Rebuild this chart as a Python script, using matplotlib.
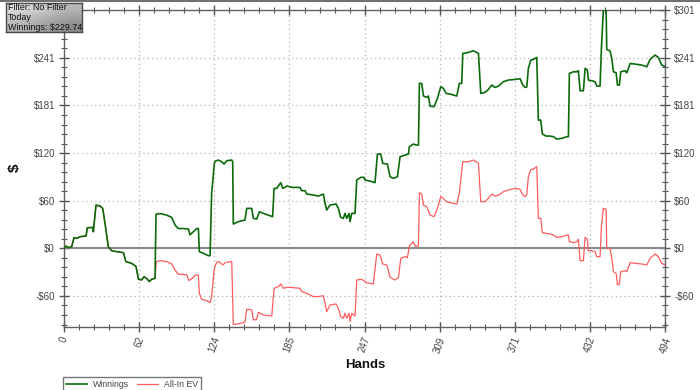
import numpy as np
import matplotlib
matplotlib.use('Agg')
import matplotlib.pyplot as plt
from matplotlib.ticker import FixedLocator, FuncFormatter
from matplotlib.lines import Line2D

plt.rcParams['font.family'] = ['Liberation Sans', 'DejaVu Sans']

# values
win_hands = [0, 1.6, 3.6, 6.3, 8.2, 10.4, 13.1, 18.1, 19.2, 23.5, 24.1, 26.3, 29.6, 31.8, 33.7,
             36.4, 39.2, 43.3, 48.8, 50.9, 55.6, 59.2, 61.1, 63.8, 65.7, 68.5, 70.1, 72.1, 74.8,
             75.6, 78.9, 84.4, 88.5, 91.2, 93.9, 98.0, 102.2, 103.5, 106.3, 109, 110.4, 111.2,
             114.5, 118.6, 120, 121.3, 123.5, 124.1, 126.8, 129.6, 131.5, 133.7, 137.8, 138.6,
             139.1, 143.2, 148.7, 150.1, 154.2, 155.6, 158.3, 160.5, 163.8, 167.9, 171.4, 172.6,
             174.8, 176.1, 178.1, 179.7, 183.5, 187.1, 193.9, 195.3, 198, 199.4, 204.9, 209,
             213.1, 214.5, 215.8, 218.6, 223.5, 225.4, 227.3, 229.5, 230.9, 232.3, 234.2, 235,
             236.4, 239.1, 240.5, 243.8, 246.5, 247.3, 251.4, 255.5, 257.5, 260.2, 261.9, 265.7,
             267.9, 270.6, 273.9, 276.1, 280.2, 283, 283.7, 287, 289.2, 291.2, 292, 293.9, 295.3,
             298, 299.4, 300.7, 304, 306.8, 309.5, 311.7, 313.9, 317.2, 322.7, 324.8, 326.8,
             327.6, 332.2, 336.3, 339.6, 340.5, 342.4, 345.9, 348.7, 351.4, 354.1, 356.9, 361,
             365.1, 370.6, 374.7, 376.9, 378.8, 380.2, 381.5, 383.5, 385.6, 388.4, 389.7, 391.7,
             393, 396.1, 399.3, 402.1, 404.8, 409, 413, 414.4, 415.2, 418.5, 421.3, 422.6, 424,
             426.7, 428.1, 430, 430.8, 433.6, 436.3, 437.7, 440.4, 441.5, 443.1, 445.4, 445.9,
             448.6, 450, 451.4, 453.6, 454.7, 456.3, 457.4, 461, 462.4, 465.1, 469.2, 474.7,
             478.8, 481.5, 485.6, 488.3, 491.1, 494]
winnings = [0, 2.9, 1, 2, 13.5, 12.6, 14.7, 15.6, 26, 26.5, 21, 54.7, 53.5, 50.5, 31.6,
            2, -3, -4.2, -5.5, -16.8, -19, -23, -39, -40, -35.8, -39, -42, -39, -38,
            43, 44, 42, 39, 29.5, 25, 25, 24.4, 17, 21, 25, 25, -4.2,
            -6.3, -9.3, -9.3, 69.5, 107, 110, 111.6, 109.5, 106.5, 110.7, 111.6, 109.5,
            30.7, 33.7, 35.8, 50.5, 50.5, 37.9, 37, 46.3, 44.2, 42, 40, 75.8,
            75.8, 78.8, 83, 75.8, 78.8, 77, 77, 72.9, 72.9, 68.6, 67.4, 66,
            68.6, 56.9, 48.4, 54.7, 56, 50.5, 39.2, 37.9, 44.2, 37.9, 44.2, 33.7,
            44.2, 44.2, 86.3, 89.7, 89.7, 86.3, 85, 83, 119.2, 119.2, 107.4, 106.5,
            90.5, 88.4, 90.5, 115.8, 117.9, 119.2, 128.4, 131.8, 130.6, 130.6, 208.5, 208.5, 192.5,
            190.8, 192.5, 179.8, 179, 189.5, 204.3, 202.1, 195.8, 195, 192.5, 208.5, 208.5,
            246.4, 247.6, 249.7, 247.2, 246.4, 195.8, 197.1, 200.9, 206.4, 203.4, 205, 210.6,
            212.7, 213.5, 214.4, 206.4, 203.4, 204, 227.4, 238, 238.8, 241.3, 162.1, 162.1,
            144.5, 141.9, 141.9, 141.1, 138.1, 139, 141.1, 141.1, 221.1, 223.2, 223.2, 224.5, 199.2,
            199.2, 227.4, 225.5, 212.7, 211.8, 210.6, 205.1, 205.1, 252.7, 301, 301, 251.4,
            249.7, 240, 223.2, 221.9, 206.4, 206.4, 223.2, 224.5, 221.9, 233.7, 232.9, 231.6,
            229.5, 238.8, 244.3, 241.3, 231.6, 229.74]

ev_hands = [0, 1.6, 3.6, 6.3, 8.2, 10.4, 13.1, 18.1, 19.2, 23.5, 24.1, 26.3, 29.6, 31.8, 33.7,
            36.4, 39.2, 43.3, 48.8, 50.9, 55.6, 59.2, 61.1, 63.8, 65.7, 68.5, 70.1, 72.1, 74.8,
            75.6, 76, 78.9, 84.4, 88.5, 91.2, 93.9, 98, 101, 102.5, 105.4, 108.1, 110.4, 111.2,
            113.1, 117.2, 120, 121.3, 123.5, 125.4, 127.6, 130.4, 133.1, 137.8, 139.1, 147.3,
            148.7, 150.1, 154.2, 155.6, 158.3, 159.7, 163.8, 170.7, 172.6, 176.1, 178.1, 180.2,
            184.3, 193.9, 195.3, 199.4, 204.9, 209, 213.1, 214.5, 215.8, 218.6, 223.5, 225.4,
            227.3, 229.5, 230.9, 232.3, 234.2, 235, 236.4, 239.1, 240.5, 244.6, 248.7, 254.2,
            256.9, 259.6, 261.9, 265.2, 267.9, 272, 274.7, 276.7, 280.2, 282.1, 283.7, 287,
            288.4, 291.2, 292, 293.9, 295.3, 298, 300.7, 304, 306.8, 309.5, 311.7, 313.9, 317.2,
            322.7, 324.8, 327.6, 332.2, 336.3, 339.6, 340.5, 342.4, 345.9, 348.7, 351.4, 354.1,
            356.9, 361, 365.1, 370.6, 374.7, 376.9, 378.8, 380.2, 381.5, 383.5, 385.6, 388.4,
            389.7, 391.7, 393, 396.1, 399.3, 402.1, 404.8, 409, 413, 414.4, 415.2, 418.5, 421.3,
            422.6, 424, 426.7, 428.1, 430, 430.8, 433.6, 436.3, 437.7, 440.4, 441.5, 443.1,
            445.4, 445.9, 448.6, 450, 451.4, 453.6, 454.7, 456.3, 457.4, 461, 462.4, 465.1,
            469.2, 474.7, 478.8, 481.5, 485.6, 488.3, 491.1, 494]
all_in_ev = [0, 2.9, 1, 2, 13.5, 12.6, 14.7, 15.6, 26, 26.5, 21, 54.7, 53.5, 50.5, 31.6,
             2, -3, -4.2, -5.5, -16.8, -19, -23, -39, -40, -35.8, -39, -42, -39, -38,
             -21, -16.8, -15.6, -16.8, -19.8, -27.4, -32.9, -32.9, -33.7, -40.8, -37.9, -33.7, -33.7, -56.9,
             -64.4, -66.1, -68.6, -61, -25.3, -17.7, -16.8, -21, -17.7, -16.8, -96.5, -94,
             -93, -77, -77.9, -90.5, -90, -80.8, -84.2, -85.5, -50.5, -48.4, -45, -50.5,
             -49.1, -50.5, -54.7, -56.9, -61, -61, -59.8, -69.5, -80, -71.6, -70.3, -75.8,
             -86.3, -88.4, -82.1, -88.4, -82.1, -92.6, -82.1, -85.5, -40, -39.2, -43.4, -45,
             -7.2, -8.4, -19.8, -21, -36.6, -40, -37, -12.6, -10.5, -12, 2.9, 8.4,
             2.9, 2.9, 70.3, 68.6, 54.7, 52.6, 42.1, 40, 50.5, 65.3, 63.2, 59, 57.7,
             56, 70.3, 109.5, 109.5, 111.6, 108.2, 107.4, 59, 59, 63.2, 68.6, 66.1,
             67, 71.6, 73.7, 75.8, 74.5, 67.4, 65.3, 68, 90.5, 99.8, 100.2, 103.2,
             37.9, 37.9, 19.8, 19, 18.1, 16.8, 13.9, 14.7, 16.8, 16.8, 8.4, 7.2, 8.4,
             11.4, -15.6, -15.6, 13.9, 11.4, -2.9, -2.9, -4.2, -10.5, -10.5, 27.4, 50.5,
             49.5, 0, 0, -12.6, -29.5, -31.6, -46.3, -45, -29.5, -28.2, -29.5, -18.1,
             -19, -19.8, -21, -12.6, -7.2, -10.5, -19, -21]

x_max = 494
y_min = -98.8
y_max = 301
y_step = y_max / 5
x_step = x_max / 8

fig = plt.figure(figsize=(7, 3.9), dpi=100)
ax = fig.add_axes([64 / 700, 1 - 326.5 / 390, 601.3 / 700, 316.3 / 390])

ax.plot(ev_hands, all_in_ev, color='#ff5c5c', lw=0.9, zorder=3, label='All-In EV')
ax.plot(win_hands, winnings, color='#0b6b0b', lw=1.2, zorder=4, label='Winnings')
ax.axhline(0, color='#8a8a8a', lw=1.5, zorder=2)

ax.set_xlim(0, x_max)
ax.set_ylim(y_min, y_max)

ax.xaxis.set_major_locator(FixedLocator(np.arange(0, 8.5) * x_step))
ax.xaxis.set_minor_locator(FixedLocator(np.arange(0, 40.5) * x_step / 5))
ax.yaxis.set_major_locator(FixedLocator(np.arange(-1, 5.5) * y_step))
ax.yaxis.set_minor_locator(FixedLocator(np.arange(-8, 25.5) * y_step / 5))


def money(v, pos):
    n = int(abs(v) + 0.5)
    return f"-${n}" if v < 0 else f"${n}"


ax.yaxis.set_major_formatter(FuncFormatter(money))
ax.xaxis.set_major_formatter(FuncFormatter(lambda v, pos: str(int(v + 0.5))))

ax.grid(which='major', color='#b4b4b4', linestyle=(0, (1, 2.5)), linewidth=0.9)
ax.set_axisbelow(True)
for s in ax.spines.values():
    s.set_color('#606060')
    s.set_linewidth(1.0)

ax.tick_params(which='both', direction='inout', colors='#555555', labelcolor='#444444',
               top=True, right=True, labelright=True, labelsize=7)
ax.tick_params(which='major', length=7, width=1)
ax.tick_params(which='minor', length=4, width=0.8)
ax.tick_params(axis='y', pad=3)
ax.tick_params(axis='x', pad=3)
for lbl in ax.get_xticklabels():
    lbl.set_rotation(70)
    lbl.set_ha('center')
    lbl.set_va('top')
# the left $301 label sits under the info box in the original
ax.yaxis.get_major_ticks()[-1].label1.set_visible(False)

fig.text(365 / 700, 1 - 365 / 390, 'Hands', ha='center', va='center',
         fontsize=9.5, fontweight='bold', color='#111111')
fig.text(15 / 700, 1 - 168 / 390, '$', ha='center', va='center', rotation=90,
         fontsize=11, fontweight='bold', color='#111111')

# top border line of the window
fig.add_artist(Line2D([0, 1], [1 - 1 / 390, 1 - 1 / 390], color='#707070', lw=1.5,
                      transform=fig.transFigure))

# info box in the corner
box = fig.add_axes([6 / 700, 1 - 32 / 390, 76 / 700, 29 / 390])
grad = np.array([[0.88, 0.72], [0.70, 0.52]])
box.imshow(grad, cmap='gray', vmin=0, vmax=1, interpolation='bicubic',
           extent=[0, 1, 0, 1], aspect='auto')
box.set_xticks([])
box.set_yticks([])
for s in box.spines.values():
    s.set_color('#4a4a4a')
    s.set_linewidth(1.0)
box.text(0.02, 0.99, 'Filter: No Filter\nToday\nWinnings: $229.74', transform=box.transAxes,
         ha='left', va='top', fontsize=6.4, color='#111111', linespacing=1.1)

handles = [Line2D([], [], color='#0b6b0b', lw=1.2), Line2D([], [], color='#ff5c5c', lw=0.9)]
leg = fig.legend(handles, ['Winnings', 'All-In EV'], loc='upper left',
                 bbox_to_anchor=(62.5 / 700, 1 - 376.5 / 390), ncol=2, fontsize=6.3,
                 frameon=True, fancybox=False, edgecolor='#555555', handlelength=2.4,
                 columnspacing=0.9, handletextpad=0.7, borderpad=0.35, borderaxespad=0)
for t in leg.get_texts():
    t.set_color('#444444')
leg.get_frame().set_linewidth(1.0)

fig.savefig('out.png', dpi=100)
